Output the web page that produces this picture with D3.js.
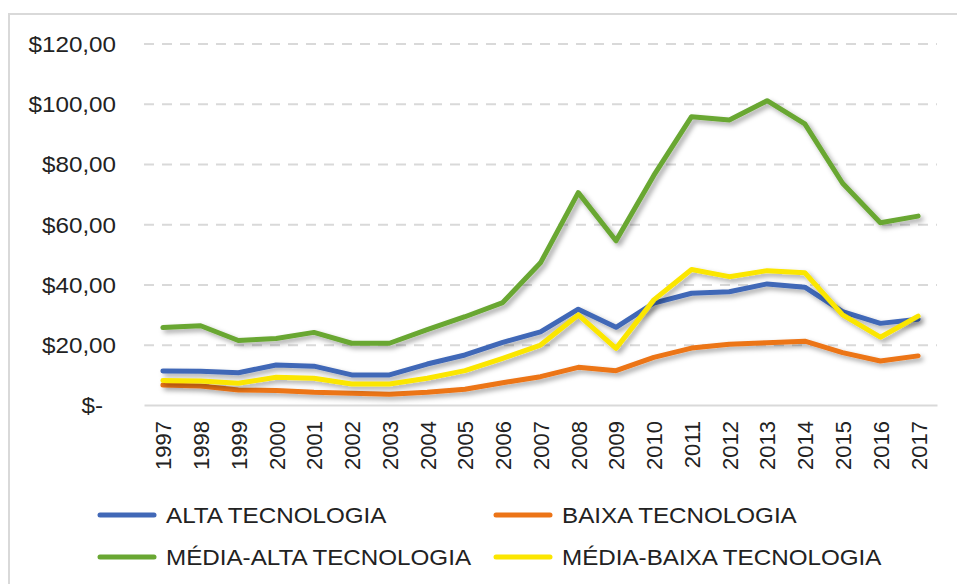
<!DOCTYPE html>
<html>
<head>
<meta charset="utf-8">
<script src="https://cdn.jsdelivr.net/npm/d3@7"></script>
<style>
  body { margin: 0; background: #fff; }
  text { font-family: "Liberation Sans", Arial, sans-serif; fill: #222; }
</style>
</head>
<body>
<div id="chart"></div>
<script>
const years = ["1997","1998","1999","2000","2001","2002","2003","2004","2005","2006","2007",
               "2008","2009","2010","2011","2012","2013","2014","2015","2016","2017"];

const alta       = [11.3, 11.2, 10.7, 13.3, 12.9, 10.0, 10.0, 13.6, 16.6, 20.8, 24.3,
                    31.8, 25.8, 33.8, 37.1, 37.6, 40.2, 39.1, 31.0, 27.1, 28.5];
const baixa      = [6.6, 6.3, 5.0, 4.8, 4.2, 3.9, 3.6, 4.2, 5.2, 7.4, 9.4,
                    12.5, 11.4, 15.8, 18.9, 20.2, 20.7, 21.2, 17.4, 14.6, 16.3];
const mediaAlta  = [25.7, 26.3, 21.4, 22.1, 24.1, 20.5, 20.5, 25.0, 29.3, 34.0, 47.2,
                    70.5, 54.5, 76.2, 95.7, 94.6, 101.0, 93.3, 73.6, 60.5, 62.7];
const mediaBaixa = [8.1, 8.0, 7.2, 9.2, 8.9, 7.0, 7.0, 8.9, 11.4, 15.5, 19.9,
                    29.9, 18.8, 34.9, 45.0, 42.6, 44.6, 43.9, 29.9, 22.5, 29.5];

const yTicks = [0, 20, 40, 60, 80, 100, 120];

const series = [
  { name: "ALTA TECNOLOGIA", values: alta, color: "#4168b7" },
  { name: "BAIXA TECNOLOGIA", values: baixa, color: "#ec7417" },
  { name: "MÉDIA-ALTA TECNOLOGIA", values: mediaAlta, color: "#69a733" },
  { name: "MÉDIA-BAIXA TECNOLOGIA", values: mediaBaixa, color: "#fbe600" }
];

const W = 957, H = 584;
const plot = { left: 144, right: 937, top: 43.5, bottom: 405 };

const svg = d3.select("#chart").append("svg")
  .attr("width", W)
  .attr("height", H);

// chart border (only top and left visible)
svg.append("rect")
  .attr("x", 9).attr("y", 14)
  .attr("width", 980).attr("height", 600)
  .attr("fill", "none")
  .attr("stroke", "#d9d9d9")
  .attr("stroke-width", 2);

const defs = svg.append("defs");
defs.append("filter")
  .attr("id", "shadow")
  .attr("x", "-10%").attr("y", "-10%")
  .attr("width", "130%").attr("height", "150%")
  .append("feDropShadow")
  .attr("dx", 3).attr("dy", 3)
  .attr("stdDeviation", 2.5)
  .attr("flood-color", "#000")
  .attr("flood-opacity", 0.35);

const x = d3.scalePoint()
  .domain(years)
  .range([plot.left, plot.right])
  .padding(0.5);

const y = d3.scaleLinear()
  .domain([0, 120])
  .range([plot.bottom, plot.top]);

// y axis with dashed gridlines
const yAxis = svg.append("g")
  .attr("transform", `translate(${plot.left},0)`)
  .call(d3.axisLeft(y)
    .tickValues(yTicks)
    .tickSize(-(plot.right - plot.left))
    .tickFormat(d => d === 0 ? "$-" : "$" + d + ",00"));

yAxis.select(".domain").remove();
yAxis.selectAll(".tick line")
  .attr("stroke", "#d9d9d9")
  .attr("stroke-width", 2)
  .attr("stroke-dasharray", "10,8")
  .filter(d => d === 0).remove();
yAxis.selectAll(".tick text")
  .attr("x", 0)
  .attr("dy", "0.36em")
  .attr("transform", d => `translate(${d === 0 ? -41 : -28},0) scale(1.1,1)`)
  .style("font-size", "22px")
  .style("font-family", "'Liberation Sans', Arial, sans-serif")
  .attr("fill", "#222");

// x axis
const xAxis = svg.append("g")
  .attr("transform", `translate(0,${plot.bottom})`)
  .call(d3.axisBottom(x).tickSize(0));

xAxis.select(".domain")
  .attr("stroke", "#d9d9d9")
  .attr("stroke-width", 2);
xAxis.selectAll(".tick text")
  .attr("transform", "rotate(-90)")
  .attr("x", -16)
  .attr("y", 0)
  .attr("dy", "0.36em")
  .style("text-anchor", "end")
  .style("font-size", "22px")
  .style("font-family", "'Liberation Sans', Arial, sans-serif")
  .attr("fill", "#222");

// lines
const line = d3.line()
  .x((d, i) => x(years[i]))
  .y(d => y(d));

svg.append("g")
  .selectAll("path")
  .data(series)
  .enter()
  .append("path")
  .attr("d", d => line(d.values))
  .attr("fill", "none")
  .attr("stroke", d => d.color)
  .attr("stroke-width", 5)
  .attr("stroke-linejoin", "round")
  .attr("stroke-linecap", "round")
  .attr("filter", "url(#shadow)");

// legend
const legendPos = [
  { x: 100, y: 515 }, { x: 496, y: 515 },
  { x: 100, y: 557 }, { x: 496, y: 557 }
];

const legend = svg.append("g")
  .selectAll("g")
  .data(series)
  .enter()
  .append("g")
  .attr("transform", (d, i) => `translate(${legendPos[i].x},${legendPos[i].y})`);

legend.append("line")
  .attr("x1", 0).attr("x2", 54)
  .attr("y1", 0).attr("y2", 0)
  .attr("stroke", d => d.color)
  .attr("stroke-width", 5)
  .attr("stroke-linecap", "round");

legend.append("text")
  .attr("transform", "translate(66,0) scale(1.1,1)")
  .attr("dy", "0.36em")
  .style("font-size", "22px")
  .text(d => d.name);
</script>
</body>
</html>
